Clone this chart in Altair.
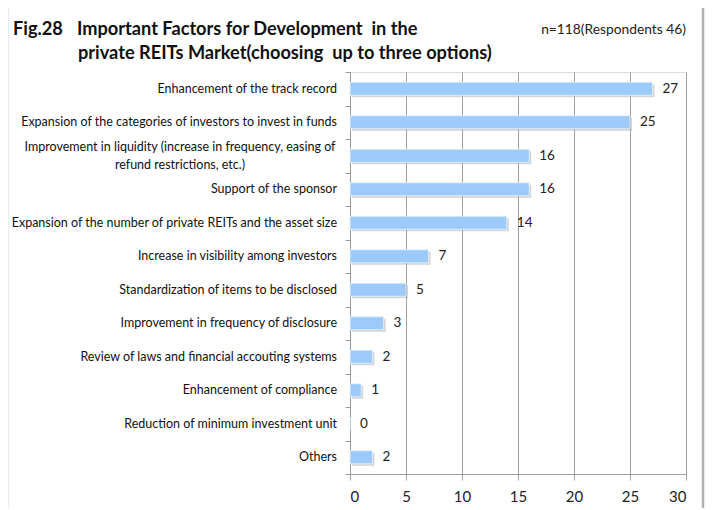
import altair as alt
import pandas as pd

categories = [
    "Enhancement of the track record",
    "Expansion of the categories of investors to invest in funds",
    "Improvement in liquidity (increase in frequency, easing of refund restrictions, etc.)",
    "Support of the sponsor",
    "Expansion of the number of private REITs and the asset size",
    "Increase in visibility among investors",
    "Standardization of items to be disclosed",
    "Improvement in frequency of disclosure",
    "Review of laws and financial accouting systems",
    "Enhancement of compliance",
    "Reduction of minimum investment unit",
    "Others",
]
values = [27, 25, 16, 16, 14, 7, 5, 3, 2, 1, 0, 2]
multiline = [False, False, True, False, False, False, False, False, False, False, False, False]
display = [
    "Enhancement of the track record",
    "Expansion of the categories of investors to invest in funds",
    "Improvement in liquidity (increase in frequency, easing of\nrefund restrictions, etc.)",
    "Support of the sponsor",
    "Expansion of the number of private REITs and the asset size",
    "Increase in visibility among investors",
    "Standardization of items to be disclosed",
    "Improvement in frequency of disclosure",
    "Review of laws and financial accouting systems",
    "Enhancement of compliance",
    "Reduction of minimum investment unit",
    "Others",
]
x_ticks = [0, 5, 10, 15, 20, 25, 30]

df = pd.DataFrame({"cat": categories, "value": values, "label": display, "multi": multiline})

FONT = "Lato"
W, H = 336, 402
LBL = 12.5
NB = "\u00a0"

y_enc = alt.Y("cat:N", sort=categories, title=None,
              scale=alt.Scale(paddingInner=0, paddingOuter=0),
              axis=alt.Axis(labels=False, ticks=True, tickBand="extent", tickSize=5,
                            tickColor="#999999", domainColor="#999999", grid=False))
x_enc = alt.X("value:Q", title=None,
              scale=alt.Scale(domain=[0, 30], nice=False),
              axis=alt.Axis(values=x_ticks, grid=True, gridColor="#a0a0a0", domainColor="#a0a0a0",
                            tickColor="#a0a0a0", tickSize=6, labelFontSize=15, labelColor="#222222",
                            labelFont=FONT, labelPadding=9))

base = alt.Chart(df)

shadow = base.mark_bar(color="#b0b0b0", opacity=0.55, height=13, xOffset=2, yOffset=2).encode(
    x=x_enc, y=y_enc)
bars = base.mark_bar(color="#9ccbfb", height=13, stroke="#e6f2ff", strokeWidth=0.8).encode(
    x="value:Q", y=alt.Y("cat:N", sort=categories))
vals_txt = base.mark_text(align="left", baseline="middle", dx=10, fontSize=13.5, font=FONT,
                          color="#222222").encode(
    x="value:Q", y=alt.Y("cat:N", sort=categories), text="value:Q")

single_lbl = base.transform_filter("!datum.multi").mark_text(
    align="right", baseline="middle", fontSize=LBL, font=FONT, color="#111111").encode(
    x=alt.value(-13), y=alt.Y("cat:N", sort=categories), text="label:N")
multi_lbl = base.transform_filter("datum.multi").mark_text(
    align="center", baseline="middle", fontSize=LBL, font=FONT, color="#111111",
    lineBreak="\n", lineHeight=18, dy=-9).encode(
    x=alt.value(-170), y=alt.Y("cat:N", sort=categories), text="label:N")

TS = 18.2
t1 = alt.Chart(pd.DataFrame({"t": ["Fig.28"]})).mark_text(
    align="left", baseline="middle", fontSize=TS, fontWeight="bold", font=FONT, color="#111111").encode(
    x=alt.value(-337), y=alt.value(-42), text="t:N")
t2 = alt.Chart(pd.DataFrame({"t": ["Important Factors for Development" + NB + " in the"]})).mark_text(
    align="left", baseline="middle", fontSize=TS, fontWeight="bold", font=FONT, color="#111111").encode(
    x=alt.value(-273), y=alt.value(-42), text="t:N")
t3 = alt.Chart(pd.DataFrame({"t": ["private REITs Market(choosing" + NB + " up to three options)"]})).mark_text(
    align="left", baseline="middle", fontSize=TS, fontWeight="bold", font=FONT, color="#111111").encode(
    x=alt.value(-272), y=alt.value(-18), text="t:N")
t4 = alt.Chart(pd.DataFrame({"t": ["n=118(Respondents 46)"]})).mark_text(
    align="right", baseline="middle", fontSize=13.8, font=FONT, color="#222222").encode(
    x=alt.value(336), y=alt.value(-42), text="t:N")

frame = alt.Chart(pd.DataFrame({"a": [0]})).mark_rect(
    fill=None, stroke="#b0b0b0", strokeWidth=2.5).encode(
    x=alt.value(-343), x2=alt.value(353), y=alt.value(-68), y2=alt.value(460))

chart = alt.layer(frame, shadow, bars, vals_txt, single_lbl, multi_lbl, t1, t2, t3, t4).properties(
    width=W, height=H, autosize=alt.AutoSizeParams(type="none"),
    padding={"left": 342, "top": 64, "right": 19, "bottom": 34},
).configure_view(stroke=None).configure(background="white")

chart.save("out.html", embed_options={"renderer": "svg", "actions": False})
